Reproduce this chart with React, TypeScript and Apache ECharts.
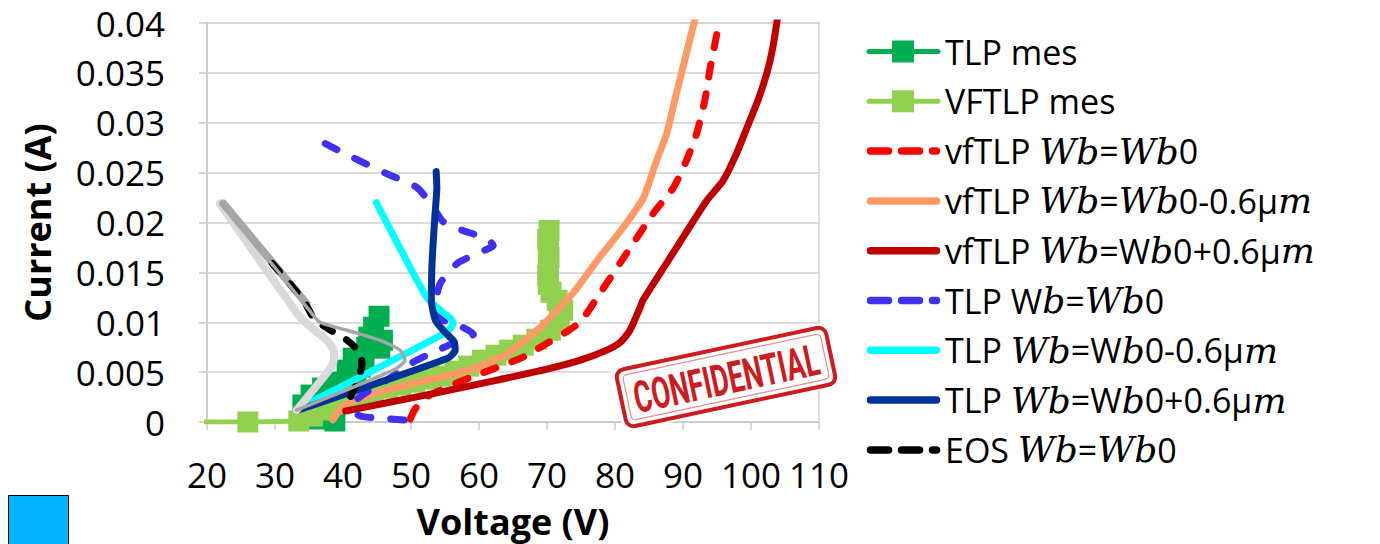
import React, { useEffect, useRef } from 'react';
import * as echarts from 'echarts';

type P = [number, number];

const FONT = "'Open Sans', 'Noto Sans', sans-serif";
const MATH = "'DejaVu Serif', serif";

// Axis ranges
const xMin = 20, xMax = 110, xStep = 10;
const yMin = 0, yMax = 0.04, yStep = 0.005;

// Measured
const tlpMes: P[] = [
  [38.8, 0.0001], [36.4, 0.0003], [34.1, 0.0017], [35.3, 0.0027], [37.0, 0.0034], [39.0, 0.0040],
  [41.9, 0.0045], [40.6, 0.0052], [42.5, 0.0055], [41.5, 0.0064], [43.1, 0.0065], [45.4, 0.0074], [43.5, 0.0075],
  [45.8, 0.0082], [43.8, 0.0085], [44.5, 0.0095], [45.3, 0.0106],
];
const vftlpMes: P[] = [
  [10, 0], [26, 0], [33.5, 0.0001], [35.5, 0.0006], [37, 0.0012], [38.5, 0.0018], [40.5, 0.0022], [42.5, 0.0026],
  [44.5, 0.003], [46.5, 0.0034], [48.5, 0.0037], [50.5, 0.004], [52.5, 0.0043], [54.5, 0.0046], [56.5, 0.0051],
  [58.5, 0.0056], [60.5, 0.0062], [62.5, 0.0067], [64.5, 0.0072], [66.5, 0.0077], [68.5, 0.0083], [70.5, 0.0092],
  [71.8, 0.0102], [72.3, 0.0112], [71.5, 0.0122], [70.6, 0.013], [70.2, 0.0138], [70.1, 0.0147], [70.2, 0.0156],
  [70.3, 0.0165], [70.2, 0.0174], [70.1, 0.0183], [70.3, 0.0192],
];

// Simulations
const vfWb0: P[] = [
  [49.9, 0.0003], [50.6, 0.0013], [52, 0.0024], [55.3, 0.0035], [58.5, 0.0044], [62, 0.0053], [66.5, 0.0065],
  [70, 0.0079], [73, 0.0091], [75, 0.0101], [77.5, 0.0126], [81.7, 0.0169], [85.6, 0.0209], [88.6, 0.0235],
  [90.5, 0.0262], [92, 0.0289], [93.2, 0.0322], [94, 0.0355], [95, 0.039],
];
const vfWbMinus: P[] = [
  [38.5, 0.0002], [39.5, 0.0012], [41, 0.002], [43.5, 0.0026], [47, 0.0033], [50.5, 0.0039], [54.5, 0.0045],
  [59, 0.0053], [64, 0.0068], [69, 0.0095], [73.8, 0.0129], [77.5, 0.0163], [81.2, 0.0195], [84.2, 0.0225],
  [86, 0.026], [87.6, 0.0289], [88.7, 0.032], [89.6, 0.0345], [91.8, 0.0405],
];
const vfWbPlus: P[] = [
  [40.4, 0.0011], [47, 0.002], [54.3, 0.003], [62, 0.0041], [70, 0.0053], [74.9, 0.0062], [78.8, 0.0072],
  [80.8, 0.008], [82.2, 0.0092], [83.7, 0.0115], [84.1, 0.0122], [88.6, 0.017], [93.5, 0.0222], [95.9, 0.0242],
  [97.8, 0.0268], [99.4, 0.0295], [101, 0.0322], [102.3, 0.0349], [103.2, 0.0375], [103.9, 0.0405],
];
const tlpWb0: P[] = [
  [37.4, 0.0279], [41.5, 0.0265], [46.4, 0.0249], [50.9, 0.0235], [53.3, 0.0215], [54.7, 0.0201], [57.6, 0.0192],
  [61.1, 0.0184], [62.1, 0.0177], [60.1, 0.017], [56.8, 0.0159], [54.3, 0.0139], [53.6, 0.0118], [54.2, 0.0104],
  [57.6, 0.0095], [59.2, 0.0088], [57.2, 0.0082], [53.3, 0.007], [50.3, 0.006], [46.9, 0.0044], [43.5, 0.003],
  [41.8, 0.0021], [41.5, 0.0012], [42.5, 0.0006], [45, 0.0004], [49, 0.0002],
];
const tlpWbMinus: P[] = [
  [44.9, 0.022], [52.3, 0.0125], [54.5, 0.0111], [55.8, 0.0104], [56.2, 0.0099], [55.2, 0.009], [33.5, 0.0014],
];
const tlpWbPlus: P[] = [
  [53.7, 0.0251], [53.8, 0.0235], [53.5, 0.0205], [53.1, 0.016], [53, 0.0122], [53.6, 0.0102], [55, 0.009],
  [56.3, 0.0081], [56.5, 0.0072], [55.4, 0.0064], [33.4, 0.0012],
];
const eosWb0: P[] = [
  [29.6, 0.0159], [34.2, 0.0122], [35.8, 0.0103], [38.4, 0.0091], [40.6, 0.0082], [42.3, 0.0071], [42.8, 0.0059],
  [42.3, 0.0043], [41.3, 0.0028], [40.2, 0.0011],
];
const grayLight: P[] = [
  [21.9, 0.0219], [33.7, 0.0105], [36, 0.0091], [37.6, 0.0082], [38.7, 0.007], [38.5, 0.0058], [37.5, 0.0048], [33.2, 0.0012],
];
const grayThick: P[] = [
  [22.4, 0.0219], [34.6, 0.0119],
];
const grayThin: P[] = [
  [22.4, 0.0219], [34.7, 0.0115], [36.6, 0.01], [40.6, 0.0092], [45.4, 0.0082], [48.4, 0.0072], [49.1, 0.0062],
  [47.4, 0.0052], [33.2, 0.0012],
];

const legendLabels: string[] = [
  'TLP mes',
  'VFTLP mes',
  'vfTLP {i|Wb}={i|Wb}0',
  'vfTLP {i|Wb}={i|Wb}0-0.6μ{i|m}',
  'vfTLP {i|Wb}=W{i|b}0+0.6μ{i|m}',
  'TLP W{i|b}={i|Wb}0',
  'TLP {i|Wb}=W{i|b}0-0.6μ{i|m}',
  'TLP {i|Wb}=W{i|b}0+0.6μ{i|m}',
  'EOS {i|Wb}={i|Wb}0',
];
const legendColors: string[] = ['#00B050', '#92D050', '#FF0000', '#FF9966', '#C00000', '#4030F0', '#00FFFF', '#003399', '#000000'];
const legendKinds: string[] = ['marker', 'marker', 'dash', 'solid', 'solid', 'dash', 'solid', 'solid', 'dash'];

function sim(name: string, data: P[], color: string, width: number, dash?: number[], z = 3) {
  return {
    type: 'line',
    name,
    data,
    z,
    symbol: 'none',
    smooth: 0.2,
    lineStyle: { color, width, type: dash ? dash : 'solid', cap: 'round', join: 'round' },
    itemStyle: { color },
    emphasis: { disabled: true },
  };
}
function meas(name: string, data: P[], color: string) {
  return {
    type: 'line',
    name,
    data,
    z: 1,
    symbol: 'rect',
    symbolSize: 21,
    showSymbol: true,
    lineStyle: { color, width: 5 },
    itemStyle: { color },
    emphasis: { disabled: true },
  };
}

export default function App() {
  const ref = useRef<HTMLDivElement>(null);
  useEffect(() => {
    const chart = echarts.init(ref.current!, null, { renderer: 'svg' });

    const legendGraphics: any[] = [];
    legendLabels.forEach((label, i) => {
      const y = 51.5 + 49.8 * i;
      const color = legendColors[i];
      const kind = legendKinds[i];
      if (kind === 'marker') {
        legendGraphics.push({ type: 'line', shape: { x1: 869, y1: y, x2: 938, y2: y }, style: { stroke: color, lineWidth: 5, lineCap: 'round' } });
        legendGraphics.push({ type: 'rect', shape: { x: 892, y: y - 11, width: 22, height: 22 }, style: { fill: color } });
      } else if (kind === 'dash') {
        legendGraphics.push({ type: 'line', shape: { x1: 870.5, y1: y, x2: 936.5, y2: y }, style: { stroke: color, lineWidth: 7.5, lineCap: 'round', lineDash: [18, 13] } });
      } else {
        legendGraphics.push({ type: 'line', shape: { x1: 870.5, y1: y, x2: 936.5, y2: y }, style: { stroke: color, lineWidth: 7.5, lineCap: 'round' } });
      }
      legendGraphics.push({
        type: 'text', x: 945, y,
        style: {
          text: label, fill: '#000', fontSize: 34, fontFamily: FONT, verticalAlign: 'middle', align: 'left',
          rich: { i: { fontFamily: MATH, fontStyle: 'italic', fontSize: 36, fill: '#000' } },
        },
      });
    });

    const stampRed = '#CF1A20';
    const stamp = {
      type: 'group', x: 726, y: 377, rotation: (12 * Math.PI) / 180, z: 100,
      children: [
        { type: 'rect', z: 100, shape: { x: -112, y: -33, width: 224, height: 66, r: 6 }, style: { fill: '#ffffff' } },
        { type: 'rect', z: 101, shape: { x: -107, y: -29, width: 214, height: 58, r: 8 }, style: { fill: '#ffffff', stroke: stampRed, lineWidth: 4 } },
        { type: 'rect', z: 101, shape: { x: -101, y: -23, width: 202, height: 46, r: 4 }, style: { fill: 'none', stroke: stampRed, lineWidth: 1.2, opacity: 0.5 } },
        {
          type: 'text', z: 102, x: 0, y: 2, scaleX: 0.62,
          style: { text: 'CONFIDENTIAL', fill: stampRed, fontSize: 44, fontWeight: 'bold', fontFamily: "Roboto, sans-serif", align: 'center', verticalAlign: 'middle' },
        },
      ],
    };

    const option: any = {
      animation: false,
      backgroundColor: '#ffffff',
      grid: { left: 207, right: 561, top: 23, bottom: 122, show: true, borderColor: '#D0D0D0', borderWidth: 1.5, containLabel: false },
      xAxis: {
        type: 'value', min: xMin, max: xMax, interval: xStep,
        name: 'Voltage (V)', nameLocation: 'middle', nameGap: 81,
        nameTextStyle: { fontSize: 36, fontWeight: 'bold', fontFamily: FONT, color: '#000' },
        axisLine: { show: true, onZero: false, lineStyle: { color: '#C8C8C8', width: 1.5 } },
        axisTick: { show: true, length: 8, lineStyle: { color: '#C8C8C8', width: 1.5 } },
        axisLabel: { fontSize: 35, fontFamily: FONT, color: '#000', margin: 35 },
        splitLine: { show: false },
      },
      yAxis: {
        type: 'value', min: yMin, max: yMax, interval: yStep,
        name: 'Current (A)', nameLocation: 'middle', nameGap: 152,
        nameTextStyle: { fontSize: 36, fontWeight: 'bold', fontFamily: FONT, color: '#000' },
        axisLine: { show: true, lineStyle: { color: '#C8C8C8', width: 1.5 } },
        axisTick: { show: true, length: 8, lineStyle: { color: '#C8C8C8', width: 1.5 } },
        axisLabel: {
          fontSize: 35, fontFamily: FONT, color: '#000', margin: 42,
          formatter: (v: number) => (v === 0 ? '0' : String(+v.toFixed(3))),
        },
        splitLine: { show: true, lineStyle: { color: '#D0D0D0', width: 1.5 } },
      },
      legend: { show: false },
      series: [
        meas('TLP mes', tlpMes, '#00B050'),
        meas('VFTLP mes', vftlpMes, '#92D050'),
        sim('vfTLP Wb=Wb0', vfWb0, '#FF0000', 7, [13, 17]),
        sim('vfTLP Wb=Wb0-0.6μm', vfWbMinus, '#FF9966', 7),
        sim('vfTLP Wb=Wb0+0.6μm', vfWbPlus, '#C00000', 7),
        sim('TLP Wb=Wb0', tlpWb0, '#4030F0', 7, [13, 20]),
        sim('TLP Wb=Wb0-0.6μm', tlpWbMinus, '#00FFFF', 7),
        sim('TLP Wb=Wb0+0.6μm', tlpWbPlus, '#003399', 7),
        sim('EOS ref 1', grayLight, '#D9D9D9', 8),
        sim('EOS ref 2', grayThick, '#A6A6A6', 8),
        sim('EOS Wb=Wb0', eosWb0, '#000000', 7, [11, 16]),
        sim('EOS ref 3', grayThin, '#A6A6A6', 3.5),
      ],
      graphic: [
        ...legendGraphics,
        stamp,
        { type: 'rect', shape: { x: 8.5, y: 495.5, width: 60, height: 60 }, style: { fill: '#00B4FF', stroke: '#000', lineWidth: 1 } },
      ],
    };
    chart.setOption(option);
    return () => chart.dispose();
  }, []);
  return <div ref={ref} style={{ position: 'fixed', left: 0, top: 0, width: 1380, height: 544, background: '#fff' }} />;
}
